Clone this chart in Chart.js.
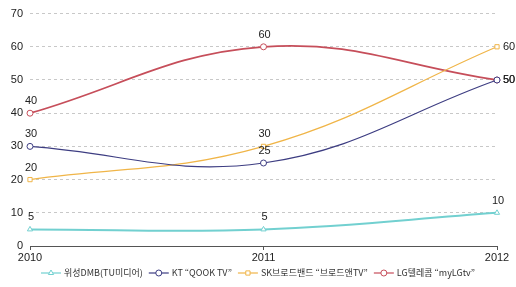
<!DOCTYPE html>
<html>
<head>
<meta charset="utf-8">
<script src="https://cdn.jsdelivr.net/npm/chart.js@4/dist/chart.umd.min.js"></script>
<style>
  html, body { margin: 0; padding: 0; background: #fff; }
  #wrap { width: 516px; height: 287px; }
</style>
</head>
<body>
<div id="wrap"><canvas id="chart" width="516" height="287"></canvas></div>
<script>
// data
const years = ['2010', '2011', '2012'];
const seriesNames = ['위성DMB(TU미디어)', 'KT “QOOK TV”', 'SK브로드밴드 “브로드앤TV”', 'LG텔레콤 “myLGtv”'];
const dmbValues = [5, 5, 10];
const ktValues = [30, 25, 50];
const skValues = [20, 30, 60];
const lgValues = [40, 60, 50];
const yMin = 0, yMax = 70, yStep = 10;

// styling
const colors = ['#72d0d0', '#3d3d82', '#f0b548', '#c64e5a'];
const markers = ['triangle', 'circle', 'rect', 'circle'];
const widths = [2, 1.2, 1.2, 1.8];
// where the value label sits for each point: 't' above, 'r' right
const labelPos = [['t', 't', 't'], ['t', 't', 'r'], ['t', 't', 'r'], ['t', 't', 'r']];

const FONT = '"Liberation Sans", Arial, sans-serif';

const valueLabels = {
    id: 'valueLabels',
    afterDatasetsDraw(chart) {
        const ctx = chart.ctx;
        ctx.save();
        ctx.font = '11px ' + FONT;
        ctx.fillStyle = '#222';
        chart.data.datasets.forEach((ds, i) => {
            const meta = chart.getDatasetMeta(i);
            meta.data.forEach((pt, j) => {
                ctx.textBaseline = 'middle';
                if (labelPos[i][j] === 'r') {
                    ctx.textAlign = 'left';
                    ctx.fillText(ds.data[j], pt.x + 6, pt.y);
                } else {
                    ctx.textAlign = 'center';
                    ctx.fillText(ds.data[j], pt.x + 1, pt.y - 12);
                }
            });
        });
        ctx.restore();
    }
};

const legendLine = {
    id: 'legendLine',
    afterDraw(chart) {
        const ctx = chart.ctx;
        ctx.save();
        ctx.font = '9px "Noto Sans CJK KR", ' + FONT;
        ctx.textBaseline = 'middle';
        const y = 273;
        const lineW = 20, gap = 3, sep = 6;
        let total = 0;
        seriesNames.forEach(n => { total += lineW + gap + ctx.measureText(n).width + sep; });
        total -= sep;
        let x = (chart.width - total) / 2;
        seriesNames.forEach((n, i) => {
            ctx.strokeStyle = colors[i];
            ctx.lineWidth = 1.2;
            ctx.beginPath();
            ctx.moveTo(x, y);
            ctx.lineTo(x + lineW, y);
            ctx.stroke();
            ctx.fillStyle = '#fff';
            ctx.lineWidth = 1;
            Chart.helpers.drawPoint(ctx, {
                pointStyle: markers[i], radius: 3, borderWidth: 1
            }, x + lineW / 2, y);
            ctx.fillStyle = '#333';
            ctx.textAlign = 'left';
            ctx.fillText(n, x + lineW + gap, y);
            x += lineW + gap + ctx.measureText(n).width + sep;
        });
        ctx.restore();
    }
};

const allValues = [dmbValues, ktValues, skValues, lgValues];

new Chart(document.getElementById('chart'), {
    type: 'line',
    data: {
        labels: years,
        datasets: allValues.map((vals, i) => ({
            label: seriesNames[i],
            data: vals,
            borderColor: colors[i],
            borderWidth: widths[i],
            backgroundColor: '#fff',
            pointStyle: markers[i],
            pointRadius: 3,
            pointBorderWidth: 1,
            pointBackgroundColor: '#fff',
            pointBorderColor: colors[i],
            tension: 0.4,
            fill: false
        }))
    },
    options: {
        responsive: false,
        animation: false,
        layout: { padding: { left: 0, right: 19, top: 11, bottom: 21 } },
        plugins: {
            legend: { display: false },
            tooltip: { enabled: false }
        },
        scales: {
            x: {
                offset: false,
                afterFit(scale) { scale.height = 20; },
                border: { display: true, color: '#555', width: 1 },
                grid: { display: true, drawOnChartArea: false, drawTicks: true, tickLength: 4, color: '#555' },
                ticks: { color: '#222', font: { family: FONT, size: 11 }, padding: 1, maxRotation: 0 }
            },
            y: {
                min: yMin,
                max: yMax,
                afterFit(scale) { scale.width = 30; },
                border: { display: false, dash: [3, 3] },
                grid: {
                    drawTicks: false,
                    color: ctx => ctx.tick.value === 0 ? 'rgba(0,0,0,0)' : '#c8c8c8',
                    lineWidth: 1
                },
                ticks: { stepSize: yStep, color: '#222', font: { family: FONT, size: 11 }, padding: 7 }
            }
        }
    },
    plugins: [valueLabels, legendLine]
});
</script>
</body>
</html>
